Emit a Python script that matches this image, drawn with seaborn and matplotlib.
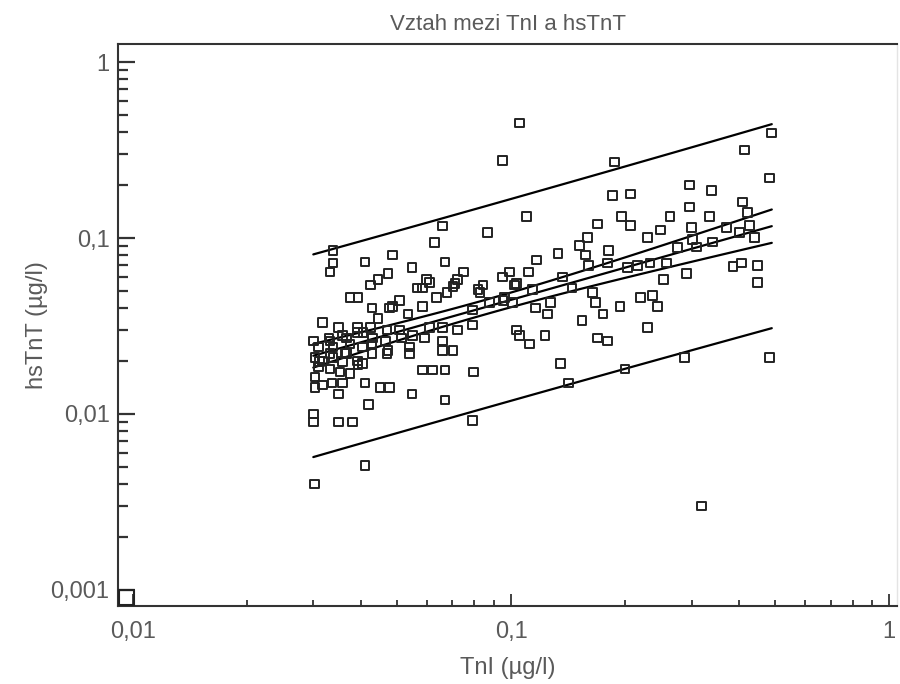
import numpy as np
import pandas as pd
import matplotlib
matplotlib.use("Agg")
import matplotlib.pyplot as plt
import seaborn as sns
from matplotlib.ticker import FixedLocator, NullFormatter

# TnI (ug/l) and hsTnT (ug/l)
tni = [
    0.0338, 0.0338, 0.0332, 0.0411, 0.0487, 0.0547, 0.0628, 0.0669, 0.0660, 0.0868,
    0.0473, 0.0445, 0.0424, 0.0609, 0.0564, 0.0584, 0.0748, 0.0720, 0.0702, 0.0677,
    0.0636, 0.0375, 0.0394, 0.0508, 0.0429, 0.0487, 0.0534, 0.0584, 0.0445, 0.0318,
    0.0349, 0.0392, 0.0424, 0.0470, 0.0508, 0.0550, 0.0609, 0.0660, 0.0720, 0.0791,
    0.0791, 0.0818, 0.0843, 0.0300, 0.0330, 0.0359, 0.0392, 0.0431, 0.0429, 0.0465,
    0.0514, 0.0540, 0.0591, 0.0660, 0.0660, 0.0702, 0.0309, 0.0338, 0.0375, 0.0404,
    0.0473, 0.0303, 0.0318, 0.0338, 0.0364, 0.0392, 0.0404, 0.0309, 0.0332, 0.0353,
    0.0375, 0.0303, 0.0303, 0.0318, 0.0336, 0.0359, 0.0349, 0.0411, 0.0450, 0.0478,
    0.0547, 0.0584, 0.0621, 0.0669, 0.0795, 0.0669, 0.0419, 0.0300, 0.0300, 0.0349,
    0.0380, 0.0791, 0.0411, 0.0302, 0.0478, 0.0598, 0.0406, 0.0332, 0.0368, 0.0312,
    0.0359, 0.0394, 0.0332, 0.0368, 0.0429, 0.0470, 0.0540,
    0.1054, 0.0947, 0.110, 0.133, 0.117, 0.111, 0.0992, 0.0947, 0.1035, 0.0711,
    0.1035, 0.1054, 0.112, 0.123, 0.125, 0.127, 0.114, 0.1022, 0.0963, 0.101,
    0.0878, 0.0952, 0.0828, 0.135, 0.142, 0.116,
    0.188, 0.489, 0.414, 0.483, 0.185, 0.207, 0.296, 0.339, 0.296, 0.335,
    0.410, 0.422, 0.428, 0.263, 0.196, 0.207, 0.169, 0.230, 0.248, 0.300,
    0.159, 0.152, 0.157, 0.160, 0.181, 0.372, 0.402, 0.441, 0.386, 0.407,
    0.449, 0.449, 0.291, 0.302, 0.309, 0.341, 0.276, 0.258, 0.253, 0.233,
    0.216, 0.203, 0.180, 0.145, 0.137, 0.164, 0.167, 0.175, 0.220, 0.237,
    0.244, 0.194, 0.154, 0.230, 0.169, 0.180, 0.319, 0.288, 0.483, 0.200,
]
hstnt = [
    0.085, 0.072, 0.064, 0.073, 0.080, 0.068, 0.094, 0.073, 0.117, 0.107,
    0.063, 0.058, 0.054, 0.056, 0.052, 0.052, 0.064, 0.058, 0.053, 0.049,
    0.046, 0.046, 0.046, 0.044, 0.040, 0.041, 0.037, 0.041, 0.035, 0.033,
    0.031, 0.031, 0.031, 0.030, 0.030, 0.028, 0.031, 0.031, 0.030, 0.032,
    0.039, 0.051, 0.054, 0.026, 0.027, 0.028, 0.029, 0.027, 0.025, 0.026,
    0.027, 0.024, 0.027, 0.026, 0.023, 0.023, 0.024, 0.024, 0.025, 0.024,
    0.023, 0.021, 0.020, 0.021, 0.022, 0.020, 0.0194, 0.0185, 0.018, 0.0173,
    0.017, 0.0162, 0.0142, 0.0146, 0.015, 0.015, 0.013, 0.015, 0.0142, 0.0142,
    0.013, 0.0178, 0.0178, 0.0178, 0.0173, 0.012, 0.0113, 0.010, 0.009, 0.009,
    0.009, 0.0092, 0.0051, 0.004, 0.040, 0.058, 0.029, 0.026, 0.027, 0.0198,
    0.0198, 0.019, 0.022, 0.022, 0.022, 0.022, 0.022,
    0.45, 0.277, 0.132, 0.082, 0.075, 0.064, 0.064, 0.060, 0.055, 0.055,
    0.030, 0.028, 0.025, 0.028, 0.037, 0.043, 0.051, 0.054, 0.046, 0.043,
    0.043, 0.044, 0.049, 0.0194, 0.015, 0.040,
    0.27, 0.395, 0.316, 0.219, 0.175, 0.178, 0.200, 0.187, 0.150, 0.132,
    0.160, 0.139, 0.118, 0.132, 0.132, 0.118, 0.120, 0.101, 0.111, 0.115,
    0.101, 0.091, 0.080, 0.070, 0.085, 0.115, 0.108, 0.101, 0.069, 0.072,
    0.070, 0.056, 0.063, 0.098, 0.089, 0.095, 0.088, 0.072, 0.058, 0.072,
    0.070, 0.068, 0.072, 0.052, 0.060, 0.049, 0.043, 0.037, 0.046, 0.047,
    0.041, 0.041, 0.034, 0.031, 0.027, 0.026, 0.003, 0.021, 0.021, 0.018,
]

df = pd.DataFrame({"TnI": tni, "hsTnT": hstnt})

# log-log regression with 95% confidence and prediction bands
lx = np.log10(df["TnI"].values)
ly = np.log10(df["hsTnT"].values)
n = len(lx)
b, a = np.polyfit(lx, ly, 1)
resid = ly - (a + b * lx)
s = np.sqrt(np.sum(resid ** 2) / (n - 2))
sxx = np.sum((lx - lx.mean()) ** 2)
t = 1.97

gx = np.linspace(lx.min(), lx.max(), 100)
fit = a + b * gx
se_ci = s * np.sqrt(1 / n + (gx - lx.mean()) ** 2 / sxx)
se_pi = s * np.sqrt(1 + 1 / n + (gx - lx.mean()) ** 2 / sxx)
bands = pd.DataFrame({
    "x": 10 ** gx,
    "fit": 10 ** fit,
    "ci_lo": 10 ** (fit - t * se_ci),
    "ci_hi": 10 ** (fit + t * se_ci),
    "pi_lo": 10 ** (fit - t * se_pi),
    "pi_hi": 10 ** (fit + t * se_pi),
})

sns.set_style("white")
plt.rcParams["font.family"] = ["Liberation Sans", "DejaVu Sans"]
grey = "#5a5a5a"

fig = plt.figure(figsize=(9, 6.84), dpi=100)
ax = fig.add_axes([0.131, 0.114, 0.866, 0.822])

for col in ["pi_hi", "ci_hi", "fit", "ci_lo", "pi_lo"]:
    sns.lineplot(data=bands, x="x", y=col, ax=ax, color="black", linewidth=1.6)

sns.scatterplot(data=df, x="TnI", y="hsTnT", ax=ax, marker="s", s=40,
                facecolor="none", edgecolor="#222222", linewidth=1.4, zorder=3)

# odd square in the lower-left corner of the original
ax.scatter([0.0096], [0.00091], marker="s", s=120, facecolor="none",
           edgecolor="#222222", linewidth=1.5, clip_on=False, zorder=3)

ax.set_xscale("log")
ax.set_yscale("log")
ax.set_xlim(0.00913, 1.05)
ax.set_ylim(0.00081, 1.27)

ax.xaxis.set_major_locator(FixedLocator([0.01, 0.1, 1]))
ax.set_xticklabels(["0,01", "0,1", "1"])
ax.xaxis.set_minor_locator(FixedLocator(
    [m * d for d in [0.01, 0.1] for m in range(2, 10)]))
ax.xaxis.set_minor_formatter(NullFormatter())
ax.yaxis.set_major_locator(FixedLocator([0.001, 0.01, 0.1, 1]))
ax.set_yticklabels(["0,001", "0,01", "0,1", "1"])
ax.yaxis.set_minor_locator(FixedLocator(
    [m * d for d in [0.001, 0.01, 0.1] for m in range(2, 10)]))
ax.yaxis.set_minor_formatter(NullFormatter())

ax.tick_params(left=True, bottom=True, top=False, right=False, which="both")
ax.tick_params(axis="y", which="major", direction="in", length=12, width=1.6,
               color="#333333", labelsize=17, labelcolor=grey, pad=6)
ax.tick_params(axis="y", which="minor", direction="in", length=7, width=1.6,
               color="#333333")
ax.tick_params(axis="x", which="major", direction="in", length=9, width=1.3,
               color="#333333", labelsize=17, labelcolor=grey, pad=11)
ax.tick_params(axis="x", which="minor", direction="in", length=4, width=1.3,
               color="#333333")

for side in ["left", "bottom", "top"]:
    ax.spines[side].set_color("#333333")
    ax.spines[side].set_linewidth(1.5)
ax.spines["right"].set_color("#e4e4e4")
ax.spines["right"].set_linewidth(1.0)

ax.set_xlabel("TnI (µg/l)", color=grey, fontsize=17, labelpad=10)
ax.set_ylabel("hsTnT (µg/l)", color=grey, fontsize=17, labelpad=2)
ax.set_title("Vztah mezi TnI a hsTnT", color=grey, fontsize=16, pad=10)

fig.savefig("out.png", dpi=100, facecolor="white")
